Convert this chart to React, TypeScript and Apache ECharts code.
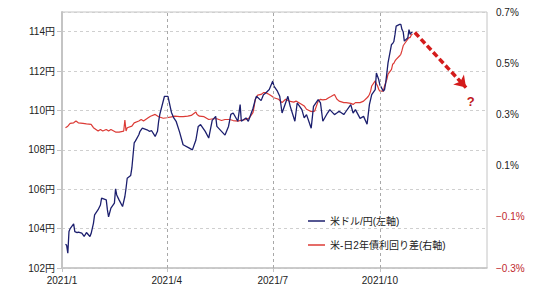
import React, { useEffect, useRef } from "react";
import * as echarts from "echarts";

const usdDates = [
  "2021-01-04","2021-01-05","2021-01-06","2021-01-07","2021-01-08","2021-01-11","2021-01-12","2021-01-14","2021-01-15","2021-01-18",
  "2021-01-20","2021-01-22","2021-01-25","2021-01-26","2021-01-28","2021-01-29","2021-02-01","2021-02-03","2021-02-04","2021-02-08",
  "2021-02-09","2021-02-10","2021-02-12","2021-02-15","2021-02-16","2021-02-17","2021-02-19","2021-02-22","2021-02-24","2021-02-25",
  "2021-02-26","2021-03-01","2021-03-02","2021-03-04","2021-03-05","2021-03-08","2021-03-09","2021-03-11","2021-03-15","2021-03-17",
  "2021-03-19","2021-03-22","2021-03-24","2021-03-25","2021-03-26","2021-03-30","2021-04-02","2021-04-05","2021-04-07","2021-04-09",
  "2021-04-12","2021-04-15","2021-04-20","2021-04-23","2021-04-26","2021-04-28","2021-04-30","2021-05-04","2021-05-07","2021-05-10",
  "2021-05-13","2021-05-14","2021-05-18","2021-05-21","2021-05-24","2021-05-26","2021-05-28","2021-06-01","2021-06-03","2021-06-04",
  "2021-06-08","2021-06-10","2021-06-14","2021-06-16","2021-06-17","2021-06-21","2021-06-23","2021-06-25","2021-06-28","2021-07-01",
  "2021-07-02","2021-07-05","2021-07-07","2021-07-09","2021-07-12","2021-07-14","2021-07-16","2021-07-20","2021-07-22","2021-07-26",
  "2021-07-28","2021-07-30","2021-08-03","2021-08-05","2021-08-09","2021-08-11","2021-08-13","2021-08-17","2021-08-19","2021-08-23",
  "2021-08-25","2021-08-27","2021-08-31","2021-09-02","2021-09-06","2021-09-08","2021-09-10","2021-09-14","2021-09-17","2021-09-20",
  "2021-09-22","2021-09-24","2021-09-27","2021-09-28","2021-09-30","2021-10-01","2021-10-04","2021-10-05","2021-10-06","2021-10-07",
  "2021-10-08","2021-10-11","2021-10-12","2021-10-13","2021-10-14","2021-10-15","2021-10-18","2021-10-19","2021-10-20","2021-10-21",
  "2021-10-22","2021-10-25","2021-10-26","2021-10-27","2021-10-28","2021-10-29",
];
const usdJpy = [
  103.2,103.15,102.75,103.85,104.0,104.24,103.85,103.8,103.82,103.77,
  103.6,103.8,103.6,103.75,104.27,104.7,104.96,105.2,105.55,105.46,
  104.95,104.6,105.04,105.29,106.02,105.71,105.46,105.12,105.63,106.05,
  106.56,106.7,107.08,108.35,108.44,108.77,108.94,109.1,109.02,108.94,
  108.97,108.68,108.94,109.45,109.8,110.72,110.72,109.9,109.62,109.45,
  108.9,108.26,108.1,108.0,108.5,109.19,109.28,108.94,108.6,109.5,
  109.7,109.19,108.94,108.75,109.19,109.8,109.87,109.45,110.3,109.45,
  109.62,109.45,110.1,110.55,110.72,110.5,110.8,110.89,111.06,111.49,
  111.24,110.98,110.72,109.87,110.38,110.72,110.21,109.45,110.38,110.04,
  109.62,109.79,109.1,110.21,110.55,110.38,109.45,109.87,110.04,109.79,
  109.87,109.96,109.79,109.96,110.3,109.87,110.04,109.6,109.7,109.3,
  110.3,110.8,111.06,111.9,111.57,111.3,110.98,111.06,111.4,111.9,
  112.42,113.35,113.4,113.5,113.86,114.28,114.37,114.37,114.11,114.0,
  113.52,113.69,114.11,113.86,113.95,113.96,
];

const spreadDates = [
  "2021-01-04","2021-01-06","2021-01-08","2021-01-11","2021-01-13","2021-01-15","2021-01-19","2021-01-22","2021-01-26","2021-01-28",
  "2021-02-01","2021-02-03","2021-02-05","2021-02-08","2021-02-10","2021-02-12","2021-02-16","2021-02-19","2021-02-23","2021-02-24",
  "2021-02-25","2021-02-26","2021-03-02","2021-03-04","2021-03-08","2021-03-10","2021-03-12","2021-03-16","2021-03-18","2021-03-22",
  "2021-03-25","2021-03-29","2021-04-01","2021-04-05","2021-04-08","2021-04-12","2021-04-15","2021-04-19","2021-04-22","2021-04-26",
  "2021-04-27","2021-04-29","2021-05-03","2021-05-07","2021-05-11","2021-05-14","2021-05-18","2021-05-21","2021-05-25","2021-05-28",
  "2021-06-01","2021-06-04","2021-06-08","2021-06-11","2021-06-14","2021-06-15","2021-06-16","2021-06-18","2021-06-21","2021-06-23",
  "2021-06-25","2021-06-28","2021-06-30","2021-07-02","2021-07-06","2021-07-09","2021-07-12","2021-07-15","2021-07-19","2021-07-21",
  "2021-07-26","2021-07-28","2021-07-30","2021-08-02","2021-08-04","2021-08-06","2021-08-09","2021-08-11","2021-08-13","2021-08-16",
  "2021-08-18","2021-08-20","2021-08-23","2021-08-25","2021-08-27","2021-08-31","2021-09-02","2021-09-06","2021-09-08","2021-09-10",
  "2021-09-14","2021-09-16","2021-09-17","2021-09-20","2021-09-21","2021-09-22","2021-09-23","2021-09-24","2021-09-27","2021-09-28",
  "2021-09-29","2021-09-30","2021-10-01","2021-10-04","2021-10-05","2021-10-06","2021-10-07","2021-10-08","2021-10-11","2021-10-12",
  "2021-10-13","2021-10-14","2021-10-15","2021-10-18","2021-10-19","2021-10-20","2021-10-21","2021-10-22","2021-10-25","2021-10-26",
  "2021-10-27","2021-10-28","2021-10-29",
];
const yieldSpread = [
  0.248,0.254,0.265,0.267,0.274,0.267,0.265,0.263,0.261,0.248,
  0.235,0.241,0.235,0.241,0.235,0.241,0.231,0.231,0.235,0.278,
  0.235,0.248,0.254,0.267,0.274,0.28,0.274,0.287,0.293,0.30,
  0.291,0.285,0.287,0.29,0.293,0.291,0.291,0.293,0.296,0.309,
  0.30,0.293,0.291,0.28,0.283,0.283,0.276,0.28,0.28,0.276,
  0.274,0.277,0.28,0.287,0.307,0.33,0.359,0.375,0.378,0.385,
  0.385,0.378,0.372,0.365,0.359,0.346,0.359,0.352,0.348,0.352,
  0.339,0.333,0.32,0.313,0.311,0.313,0.352,0.359,0.357,0.359,
  0.365,0.37,0.378,0.36,0.352,0.346,0.346,0.343,0.339,0.346,
  0.346,0.35,0.352,0.365,0.37,0.378,0.39,0.411,0.431,0.42,
  0.411,0.398,0.391,0.391,0.411,0.424,0.437,0.457,0.476,0.496,
  0.50,0.509,0.515,0.529,0.535,0.55,0.568,0.575,0.594,0.60,
  0.60,0.61,0.614,
];

const quarterTicks = ["2021-01-01", "2021-04-01", "2021-07-01", "2021-10-01"];
const axisStart = "2021-01-01";
const axisEnd = "2022-01-01";
const leftTicks = { min: 102, max: 115, step: 2 };
const rightTicks = { min: -0.3, max: 0.7, step: 0.2 };

const arrowFrom = { date: "2021-10-31", value: 113.96 };
const arrowTo = { date: "2021-12-14", value: 111.16 };
const questionAt = { date: "2021-12-18", value: 110.45 };

const seriesNames = ["米ドル/円(左軸)", "米-日2年債利回り差(右軸)"];

const toTs = (s: string) => {
  const [y, m, d] = s.split("-").map(Number);
  return new Date(y, m - 1, d).getTime();
};

const FONT = "'Liberation Sans','Noto Sans CJK JP',sans-serif";
const gridLine = (color: string) => ({ color, width: 1, type: [3, 3] });
const LEGEND_ICON = "path://M0,0H34V3H0Z";

export default function App() {
  const ref = useRef<HTMLDivElement>(null);
  useEffect(() => {
    if (!ref.current) return;
    const chart = echarts.init(ref.current, null, { renderer: "svg" });
    const usdData = usdDates.map((d, i) => [toTs(d), usdJpy[i]]);
    const spreadData = spreadDates.map((d, i) => [toTs(d), yieldSpread[i]]);
    const qt = quarterTicks.map(toTs);
    const verticalGrid = qt.slice(1).map((t) => [
      { coord: [t, leftTicks.min], symbol: "none", lineStyle: gridLine("#a8a8a8") },
      { coord: [t, leftTicks.max], symbol: "none" },
    ]);
    const arrow = [
      {
        coord: [toTs(arrowFrom.date), arrowFrom.value],
        symbol: "none",
        lineStyle: { color: "#d41c1c", width: 3.5, type: [6, 3] },
      },
      { coord: [toTs(arrowTo.date), arrowTo.value], symbol: "arrow", symbolSize: 11 },
    ];
    chart.setOption({
      animation: false,
      textStyle: { fontFamily: FONT },
      grid: {
        left: 62,
        right: 53,
        top: 12,
        bottom: 35,
        show: true,
        borderColor: "#c4c4c4",
        borderWidth: 1,
      },
      legend: {
        orient: "vertical",
        left: 303,
        top: 211,
        itemWidth: 17,
        itemHeight: 10,
        itemGap: 14,
        icon: LEGEND_ICON,
        textStyle: { fontSize: 10, color: "#222", fontFamily: FONT },
        data: seriesNames,
      },
      xAxis: {
        type: "value",
        min: toTs(axisStart),
        max: toTs(axisEnd),
        axisLine: { onZero: false, lineStyle: { color: "#c4c4c4", width: 1.5 } },
        axisTick: {
          show: true,
          length: 4,
          customValues: qt,
          lineStyle: { color: "#c4c4c4" },
        },
        axisLabel: {
          customValues: qt,
          fontSize: 10,
          color: "#222",
          margin: 7,
          formatter: (v: number) => {
            const d = new Date(v);
            return `${d.getFullYear()}/${d.getMonth() + 1}`;
          },
        },
        splitLine: { show: false },
      },
      yAxis: [
        {
          type: "value",
          min: leftTicks.min,
          max: leftTicks.max,
          interval: leftTicks.step,
          position: "left",
          axisLine: { show: true, lineStyle: { color: "#c4c4c4", width: 2 } },
          axisTick: { show: true, length: 5, lineStyle: { color: "#c4c4c4" } },
          axisLabel: {
            showMaxLabel: false,
            fontSize: 10,
            color: "#222",
            margin: 7,
            formatter: (v: number) => `${v}円`,
          },
          splitLine: { show: true, lineStyle: gridLine("#cfcfcf") },
        },
        {
          type: "value",
          min: rightTicks.min,
          max: rightTicks.max,
          interval: rightTicks.step,
          position: "right",
          axisLine: { show: false },
          axisTick: { show: false },
          axisLabel: {
            fontSize: 10,
            margin: 9,
            color: (v: any) => (Number(v) < 0 ? "#c0282d" : "#222"),
            formatter: (v: number) => {
              const s = Math.abs(v).toFixed(1) + "%";
              return v < -1e-9 ? "−" + s : s;
            },
          },
          splitLine: { show: false },
        },
      ],
      series: [
        {
          name: seriesNames[0],
          type: "line",
          yAxisIndex: 0,
          data: usdData,
          symbol: "none",
          lineStyle: { color: "#1c1f6e", width: 1.3 },
          itemStyle: { color: "#1c1f6e" },
          z: 3,
          markLine: {
            silent: true,
            symbol: ["none", "none"],
            label: { show: false },
            data: [...verticalGrid, arrow],
          },
          markPoint: {
            silent: true,
            symbol: "circle",
            symbolSize: 1,
            itemStyle: { color: "rgba(0,0,0,0)" },
            label: {
              show: true,
              position: "inside",
              formatter: "?",
              color: "#c0181c",
              fontSize: 13,
              fontWeight: "bold",
              fontFamily: FONT,
            },
            data: [{ coord: [toTs(questionAt.date), questionAt.value] }],
          },
        },
        {
          name: seriesNames[1],
          type: "line",
          yAxisIndex: 1,
          data: spreadData,
          symbol: "none",
          lineStyle: { color: "#dc3b36", width: 1.2 },
          itemStyle: { color: "#dc3b36" },
          z: 2,
        },
      ],
    });
    return () => chart.dispose();
  }, []);
  return (
    <div
      ref={ref}
      style={{ position: "fixed", left: 0, top: 0, width: 540, height: 303, background: "#fff" }}
    />
  );
}
